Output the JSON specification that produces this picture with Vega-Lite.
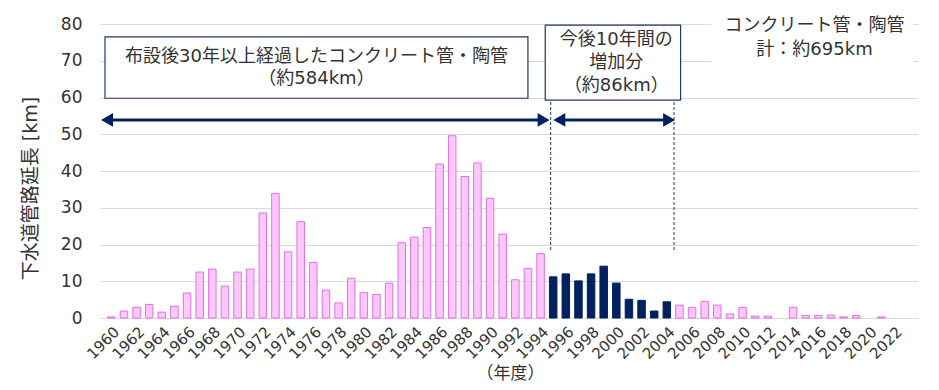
{
  "$schema": "https://vega.github.io/schema/vega-lite/v6.json",
  "width": 818,
  "height": 294,
  "autosize": "none",
  "padding": {"left": 100, "top": 24, "right": 21, "bottom": 72},
  "background": "white",
  "config": {
    "font": "DejaVu Sans, Noto Sans CJK JP",
    "view": {"stroke": null},
    "axis": {"labelFont": "DejaVu Sans, Noto Sans CJK JP", "titleFont": "DejaVu Sans, Noto Sans CJK JP", "labelColor": "#333333", "titleColor": "#333333", "titleFontWeight": "normal"}
  },
  "resolve": {"axis": {"x": "independent", "y": "independent"}},
  "datasets": {
    "bars": [
      {"year": 1960, "km": 0.3, "group": "30年以上"},
      {"year": 1961, "km": 1.9, "group": "30年以上"},
      {"year": 1962, "km": 2.9, "group": "30年以上"},
      {"year": 1963, "km": 3.7, "group": "30年以上"},
      {"year": 1964, "km": 1.6, "group": "30年以上"},
      {"year": 1965, "km": 3.2, "group": "30年以上"},
      {"year": 1966, "km": 6.8, "group": "30年以上"},
      {"year": 1967, "km": 12.5, "group": "30年以上"},
      {"year": 1968, "km": 13.3, "group": "30年以上"},
      {"year": 1969, "km": 8.7, "group": "30年以上"},
      {"year": 1970, "km": 12.5, "group": "30年以上"},
      {"year": 1971, "km": 13.3, "group": "30年以上"},
      {"year": 1972, "km": 28.6, "group": "30年以上"},
      {"year": 1973, "km": 33.9, "group": "30年以上"},
      {"year": 1974, "km": 18.0, "group": "30年以上"},
      {"year": 1975, "km": 26.2, "group": "30年以上"},
      {"year": 1976, "km": 15.1, "group": "30年以上"},
      {"year": 1977, "km": 7.6, "group": "30年以上"},
      {"year": 1978, "km": 4.1, "group": "30年以上"},
      {"year": 1979, "km": 10.8, "group": "30年以上"},
      {"year": 1980, "km": 6.9, "group": "30年以上"},
      {"year": 1981, "km": 6.4, "group": "30年以上"},
      {"year": 1982, "km": 9.5, "group": "30年以上"},
      {"year": 1983, "km": 20.5, "group": "30年以上"},
      {"year": 1984, "km": 22.0, "group": "30年以上"},
      {"year": 1985, "km": 24.6, "group": "30年以上"},
      {"year": 1986, "km": 41.9, "group": "30年以上"},
      {"year": 1987, "km": 49.6, "group": "30年以上"},
      {"year": 1988, "km": 38.5, "group": "30年以上"},
      {"year": 1989, "km": 42.2, "group": "30年以上"},
      {"year": 1990, "km": 32.6, "group": "30年以上"},
      {"year": 1991, "km": 22.8, "group": "30年以上"},
      {"year": 1992, "km": 10.4, "group": "30年以上"},
      {"year": 1993, "km": 13.5, "group": "30年以上"},
      {"year": 1994, "km": 17.5, "group": "30年以上"},
      {"year": 1995, "km": 11.2, "group": "今後10年"},
      {"year": 1996, "km": 12.0, "group": "今後10年"},
      {"year": 1997, "km": 10.1, "group": "今後10年"},
      {"year": 1998, "km": 12.0, "group": "今後10年"},
      {"year": 1999, "km": 14.1, "group": "今後10年"},
      {"year": 2000, "km": 9.5, "group": "今後10年"},
      {"year": 2001, "km": 5.1, "group": "今後10年"},
      {"year": 2002, "km": 4.8, "group": "今後10年"},
      {"year": 2003, "km": 1.9, "group": "今後10年"},
      {"year": 2004, "km": 4.4, "group": "今後10年"},
      {"year": 2005, "km": 3.5, "group": "その他"},
      {"year": 2006, "km": 2.9, "group": "その他"},
      {"year": 2007, "km": 4.5, "group": "その他"},
      {"year": 2008, "km": 3.5, "group": "その他"},
      {"year": 2009, "km": 1.1, "group": "その他"},
      {"year": 2010, "km": 2.9, "group": "その他"},
      {"year": 2011, "km": 0.5, "group": "その他"},
      {"year": 2012, "km": 0.5, "group": "その他"},
      {"year": 2014, "km": 2.9, "group": "その他"},
      {"year": 2015, "km": 0.7, "group": "その他"},
      {"year": 2016, "km": 0.7, "group": "その他"},
      {"year": 2017, "km": 0.8, "group": "その他"},
      {"year": 2018, "km": 0.3, "group": "その他"},
      {"year": 2019, "km": 0.7, "group": "その他"},
      {"year": 2021, "km": 0.3, "group": "その他"}
    ],
    "boxes": [
      {"x1": 1959.5, "x2": 1993.0, "y1": 59.8, "y2": 76.5},
      {"x1": 1994.37, "x2": 2005.09, "y1": 59.3, "y2": 79.7}
    ],
    "blank": [
      {"x1": 2007.5, "x2": 2023.5, "y1": 63.5, "y2": 81}
    ],
    "arrows": [
      {"x1": 1959.66, "x2": 1994.24, "y": 53.9},
      {"x1": 1995.49, "x2": 2004.18, "y": 53.9}
    ],
    "heads": [
      {"x": 1959.66, "y": 53.9, "shape": "triangle-left"},
      {"x": 1994.24, "y": 53.9, "shape": "triangle-right"},
      {"x": 1995.49, "y": 53.9, "shape": "triangle-left"},
      {"x": 2004.18, "y": 53.9, "shape": "triangle-right"}
    ],
    "dashes": [
      {"x": 1994.8, "y1": 18.5, "y2": 59.3},
      {"x": 2004.57, "y1": 18.5, "y2": 59.3}
    ],
    "labels": [
      {"x": 1976.25, "y": 70.9, "t": "布設後30年以上経過したコンクリート管・陶管"},
      {"x": 1976.25, "y": 64.9, "t": "（約584km）"},
      {"x": 2000.0, "y": 75.6, "t": "今後10年間の"},
      {"x": 2000.0, "y": 69.4, "t": "増加分"},
      {"x": 2000.0, "y": 63.0, "t": "（約86km）"},
      {"x": 2015.7, "y": 79.5, "t": "コンクリート管・陶管"},
      {"x": 2015.7, "y": 72.9, "t": "計：約695km"}
    ]
  },
  "layer": [
    {
      "data": {"name": "bars"},
      "mark": {"type": "bar", "size": 7.5, "strokeWidth": 1},
      "encoding": {
        "x": {
          "field": "year", "type": "quantitative",
          "scale": {"domain": [1959.5, 2023.5], "nice": false, "zero": false},
          "axis": {
            "title": "（年度）", "titleFontSize": 17, "titleX": 410, "titleY": 55, "titleBaseline": "middle", "titleAlign": "center",
            "values": [1960,1962,1964,1966,1968,1970,1972,1974,1976,1978,1980,1982,1984,1986,1988,1990,1992,1994,1996,1998,2000,2002,2004,2006,2008,2010,2012,2014,2016,2018,2020,2022],
            "format": "d", "labelAngle": -45, "labelFontSize": 15, "labelPadding": 6, "ticks": false, "grid": false,
            "domainColor": "#D9D9D9", "labelOverlap": false, "labelBound": false, "labelFlush": false
          }
        },
        "y": {
          "field": "km", "type": "quantitative",
          "scale": {"domain": [0, 80], "nice": false},
          "axis": {
            "title": "下水道管路延長 [km]", "titleFontSize": 19, "titleX": -70, "titleY": 164, "titleAngle": -90, "titleAlign": "center", "titleBaseline": "middle",
            "values": [0,10,20,30,40,50,60,70,80], "labelFontSize": 17, "labelPadding": 18, "ticks": false, "domain": false, "labelOverlap": false,
            "grid": true, "gridColor": "#D9D9D9", "gridWidth": 1
          }
        },
        "fill": {"field": "group", "type": "nominal", "scale": {"domain": ["30年以上", "今後10年", "その他"], "range": ["#FFC9FF", "#002060", "#FFC9FF"]}, "legend": null},
        "stroke": {"field": "group", "type": "nominal", "scale": {"domain": ["30年以上", "今後10年", "その他"], "range": ["#E36FE3", "#002060", "#E36FE3"]}, "legend": null}
      }
    },
    {
      "data": {"name": "blank"},
      "mark": {"type": "rect", "fill": "white"},
      "encoding": {
        "x": {"field": "x1", "type": "quantitative", "axis": null},
        "x2": {"field": "x2"},
        "y": {"field": "y1", "type": "quantitative", "axis": null},
        "y2": {"field": "y2"}
      }
    },
    {
      "data": {"name": "boxes"},
      "mark": {"type": "rect", "fill": "white", "stroke": "#1F3864", "strokeWidth": 1.2},
      "encoding": {
        "x": {"field": "x1", "type": "quantitative", "axis": null},
        "x2": {"field": "x2"},
        "y": {"field": "y1", "type": "quantitative", "axis": null},
        "y2": {"field": "y2"}
      }
    },
    {
      "data": {"name": "dashes"},
      "mark": {"type": "rule", "stroke": "#1F3864", "strokeWidth": 1, "strokeDash": [3, 2]},
      "encoding": {
        "x": {"field": "x", "type": "quantitative", "axis": null},
        "y": {"field": "y1", "type": "quantitative", "axis": null},
        "y2": {"field": "y2"}
      }
    },
    {
      "data": {"name": "arrows"},
      "mark": {"type": "rule", "stroke": "#002060", "strokeWidth": 3},
      "encoding": {
        "x": {"field": "x1", "type": "quantitative", "axis": null},
        "x2": {"field": "x2"},
        "y": {"field": "y", "type": "quantitative", "axis": null}
      }
    },
    {
      "data": {"name": "heads"},
      "mark": {"type": "point", "filled": true, "size": 190, "color": "#002060", "opacity": 1},
      "encoding": {
        "x": {"field": "x", "type": "quantitative", "axis": null},
        "y": {"field": "y", "type": "quantitative", "axis": null},
        "shape": {"field": "shape", "type": "nominal", "scale": null, "legend": null}
      }
    },
    {
      "data": {"name": "labels"},
      "mark": {"type": "text", "fontSize": 18, "color": "#333333", "align": "center", "baseline": "middle"},
      "encoding": {
        "x": {"field": "x", "type": "quantitative", "axis": null},
        "y": {"field": "y", "type": "quantitative", "axis": null},
        "text": {"field": "t", "type": "nominal"}
      }
    }
  ]
}
